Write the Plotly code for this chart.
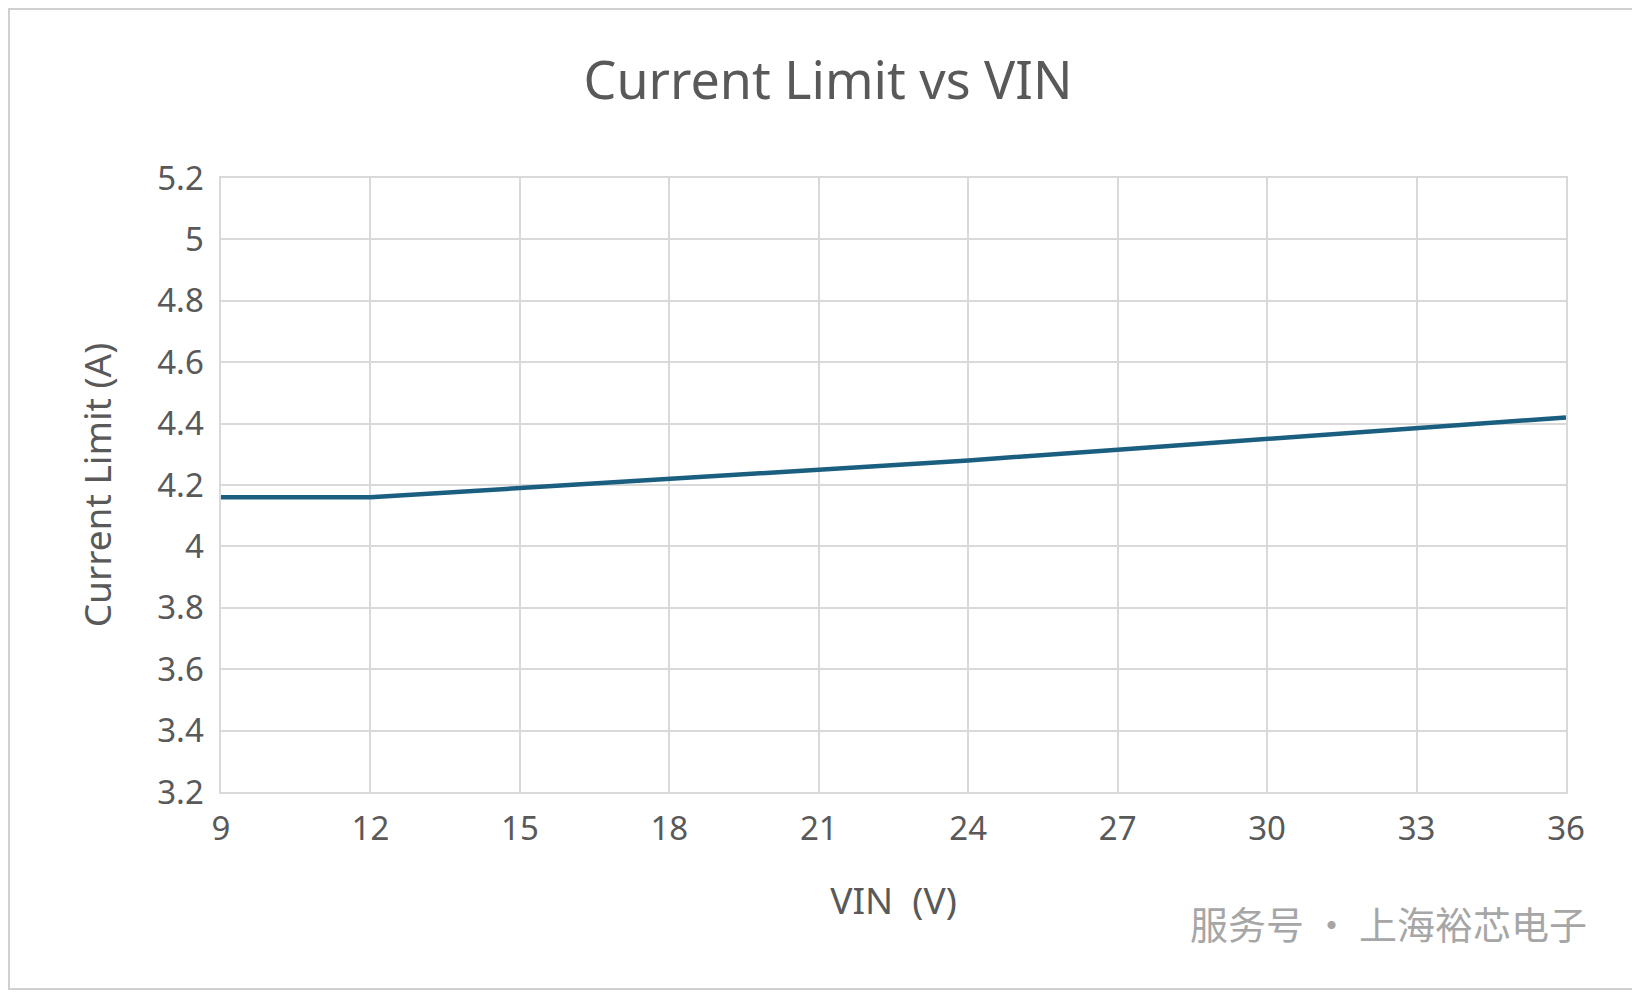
import plotly.graph_objects as go

vin = [9, 12, 15, 18, 21, 24, 27, 30, 33, 36]
current_limit = [4.16, 4.16, 4.19, 4.22, 4.25, 4.28, 4.315, 4.35, 4.385, 4.42]

font_c = "#595959"
grid_c = "#d9d9d9"

L, R, T, B = 213, 82, 170, 208
W, H = 1640 - L - R, 992 - T - B

fig = go.Figure()
fig.add_trace(go.Scatter(x=vin, y=current_limit, mode="lines",
                         line=dict(color="#1a5e80", width=4.5)))

fig.update_layout(
    width=1640, height=992,
    paper_bgcolor="white", plot_bgcolor="white",
    margin=dict(l=L, r=R, t=T, b=B),
    showlegend=False,
    font=dict(family="Noto Sans, Noto Sans CJK SC, sans-serif", color=font_c),
    title=dict(text="Current Limit vs VIN", x=0.5, xanchor="center",
               y=0.927, yanchor="middle", font=dict(size=52, color=font_c)),
    xaxis=dict(range=[9, 36], tick0=9, dtick=3, showgrid=True, gridcolor=grid_c,
               gridwidth=2, zeroline=False, showline=True, linecolor=grid_c,
               linewidth=2, mirror=True, ticks="outside", ticklen=6, tickcolor="white",
               tickfont=dict(size=33, color=font_c),
               title=dict(text="VIN  (V)", font=dict(size=37, color=font_c), standoff=40)),
    yaxis=dict(range=[3.2, 5.2], dtick=0.2, showgrid=True, gridcolor=grid_c,
               gridwidth=2, zeroline=False, showline=True, linecolor=grid_c,
               linewidth=2, mirror=True, ticksuffix=" ",
               tickfont=dict(size=33, color=font_c),
               title=dict(text="Current Limit (A)", font=dict(size=37, color=font_c), standoff=34)),
    shapes=[dict(type="rect", xref="paper", yref="paper",
                 x0=-(L - 1) / W, x1=1 + (R - 11) / W,
                 y0=-(B - 11) / H, y1=1 + (T - 1) / H,
                 line=dict(color="#d0d0d0", width=2))],
    annotations=[dict(text="服务号 · 上海裕芯电子", xref="paper", yref="paper",
                      x=1.017, y=-0.212, xanchor="right", yanchor="middle",
                      showarrow=False,
                      font=dict(family="Noto Sans CJK SC", size=38, color="#a6a6a6"))],
)

fig.write_html("out.html")
